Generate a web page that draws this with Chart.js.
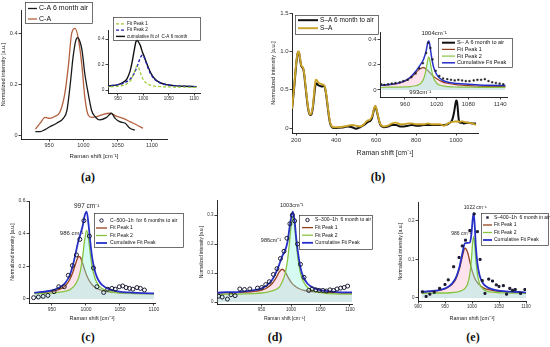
<!DOCTYPE html>
<html>
<head>
<meta charset="utf-8">
<script src="https://cdn.jsdelivr.net/npm/chart.js@4.4.1/dist/chart.umd.min.js"></script>
<style>
body { margin: 0; background: #fff; }
#fig { position: relative; width: 550px; height: 347px; overflow: hidden; background: #fff; }
canvas { position: absolute; }
.tag { position: absolute; font: bold 12px "Liberation Serif", serif; color: #111; transform: translate(-50%, -50%); }
</style>
</head>
<body>
<div id="fig">
  <canvas id="chA" width="185" height="160" style="left:0px;top:0px"></canvas>
  <canvas id="chAi" width="115" height="95" style="left:92px;top:10px"></canvas>
  <canvas id="chB" width="280" height="157" style="left:270px;top:0px"></canvas>
  <canvas id="chBi" width="155" height="85" style="left:362px;top:25px"></canvas>
  <canvas id="chC" width="175" height="132" style="left:10px;top:190px"></canvas>
  <canvas id="chD" width="175" height="132" style="left:199px;top:190px"></canvas>
  <canvas id="chE" width="152" height="132" style="left:398px;top:190px"></canvas>
  <div class="tag" style="left:88px;top:177px">(a)</div>
  <div class="tag" style="left:378px;top:177px">(b)</div>
  <div class="tag" style="left:88px;top:337px">(c)</div>
  <div class="tag" style="left:275px;top:337px">(d)</div>
  <div class="tag" style="left:473px;top:337px">(e)</div>
</div>
<script>
// ---- (a) C-A spectra ----
const aAgedShift = [930, 937, 944, 951, 961, 971, 976, 981, 985, 989, 992, 995, 998, 1002, 1007, 1012, 1017, 1024, 1034, 1041, 1046, 1053, 1061, 1068, 1075];
const aAged = [0.017, 0.017, 0.025, 0.036, 0.05, 0.07, 0.1, 0.207, 0.31, 0.375, 0.386, 0.37, 0.337, 0.246, 0.167, 0.1, 0.076, 0.063, 0.073, 0.089, 0.07, 0.056, 0.05, 0.03, 0.023];
const aFreshShift = [930, 937, 944, 951, 958, 966, 973, 978, 983, 988, 993, 998, 1002, 1007, 1012, 1020, 1029, 1039, 1048, 1058, 1068, 1078, 1087];
const aFresh = [0.027, 0.05, 0.073, 0.069, 0.076, 0.095, 0.167, 0.272, 0.403, 0.422, 0.376, 0.272, 0.154, 0.082, 0.073, 0.076, 0.085, 0.089, 0.078, 0.069, 0.056, 0.043, 0.03];

// (a) inset fits
const aFitShift = [926, 940, 950, 960, 968, 974, 978, 982, 986, 988, 990, 994, 998, 1002, 1006, 1010, 1015, 1022, 1030, 1040, 1050, 1065, 1080, 1105];
const aFit1 = [0.024, 0.026, 0.029, 0.036, 0.049, 0.07, 0.096, 0.138, 0.182, 0.19, 0.182, 0.138, 0.096, 0.07, 0.054, 0.044, 0.037, 0.031, 0.028, 0.025, 0.024, 0.023, 0.022, 0.021];
const aFit2 = [0.031, 0.036, 0.042, 0.052, 0.067, 0.085, 0.104, 0.13, 0.166, 0.187, 0.21, 0.253, 0.272, 0.253, 0.21, 0.166, 0.123, 0.085, 0.062, 0.047, 0.039, 0.032, 0.029, 0.026];
const aFitSum = [0.03, 0.035, 0.042, 0.06, 0.09, 0.15, 0.22, 0.31, 0.385, 0.388, 0.38, 0.35, 0.3, 0.26, 0.215, 0.175, 0.13, 0.09, 0.064, 0.047, 0.039, 0.032, 0.029, 0.026];

// ---- (b) S-A spectra ----
const bShift = [180, 190, 200, 205, 210, 215, 220, 225, 230, 235, 240, 245, 250, 255, 260, 265, 270, 275, 280, 285, 290, 295, 300, 305, 310,
  320, 330, 340, 345, 350, 355, 360, 365, 370, 375, 380, 390, 400,
  420, 440, 460, 480, 500, 520, 540, 550, 560, 570, 580, 590, 596, 600, 610, 620, 630, 640,
  660, 680, 700, 720, 740, 760, 780, 800, 820, 840, 860, 880, 900, 920, 940, 960,
  970, 980, 990, 995, 1000, 1004, 1008, 1012, 1016, 1020, 1030, 1040, 1060, 1080, 1100];
const bAged = [0.24, 0.5, 0.8, 0.92, 0.99, 0.98, 0.9, 0.82, 0.79, 0.78, 0.72, 0.6, 0.48, 0.36, 0.26, 0.2, 0.17, 0.17, 0.2, 0.28, 0.4, 0.52, 0.58, 0.58, 0.56,
  0.55, 0.54, 0.55, 0.52, 0.45, 0.35, 0.24, 0.14, 0.07, 0.03, 0.01, 0.0, 0.0,
  0.005, 0.01, 0.02, 0.01, -0.01, 0.01, 0.04, 0.06, 0.08, 0.09, 0.13, 0.24, 0.28, 0.26, 0.15, 0.05, 0.02, 0.01,
  0.02, 0.04, 0.04, 0.02, 0.02, 0.03, 0.04, 0.03, 0.03, 0.04, 0.04, 0.04, 0.04, 0.04, 0.04, 0.05,
  0.07, 0.1, 0.2, 0.28, 0.35, 0.36, 0.28, 0.15, 0.08, 0.07, 0.07, 0.06, 0.07, 0.06, 0.06];
const bFresh = [0.25, 0.52, 0.82, 0.93, 1.0, 0.99, 0.92, 0.83, 0.8, 0.79, 0.73, 0.62, 0.5, 0.38, 0.28, 0.21, 0.18, 0.18, 0.22, 0.3, 0.44, 0.58, 0.63, 0.62, 0.6,
  0.58, 0.57, 0.56, 0.53, 0.46, 0.37, 0.26, 0.16, 0.08, 0.04, 0.02, 0.01, 0.01,
  0.01, 0.02, 0.03, 0.04, 0.03, 0.02, 0.05, 0.08, 0.1, 0.11, 0.15, 0.25, 0.29, 0.27, 0.16, 0.06, 0.03, 0.02,
  0.03, 0.06, 0.07, 0.05, 0.05, 0.06, 0.06, 0.05, 0.05, 0.05, 0.06, 0.05, 0.05, 0.05, 0.03, 0.06,
  0.07, 0.08, 0.08, 0.09, 0.08, 0.09, 0.08, 0.09, 0.08, 0.08, 0.09, 0.08, 0.07, 0.06, 0.04];

// (b) inset
const bDotShift = [915, 921, 928, 935, 942, 950, 957, 965, 972, 980, 987, 994, 1000, 1004, 1008, 1012, 1018, 1025, 1032, 1040, 1047, 1054, 1061, 1068, 1075, 1082, 1090, 1097, 1104, 1111, 1118, 1125, 1132, 1139, 1146];
const bDot = [0.045, 0.04, 0.045, 0.05, 0.055, 0.06, 0.07, 0.08, 0.1, 0.13, 0.17, 0.21, 0.29, 0.37, 0.33, 0.24, 0.15, 0.11, 0.09, 0.085, 0.08, 0.075, 0.08, 0.075, 0.07, 0.07, 0.075, 0.08, 0.08, 0.085, 0.07, 0.06, 0.055, 0.05, 0.045];
const bFitShift = [915, 930, 945, 960, 970, 980, 985, 990, 995, 1000, 1003, 1005, 1007, 1010, 1014, 1020, 1030, 1040, 1060, 1080, 1100, 1120, 1150];
const bFit1 = [0.036, 0.041, 0.05, 0.069, 0.093, 0.132, 0.154, 0.17, 0.175, 0.165, 0.154, 0.145, 0.136, 0.123, 0.107, 0.088, 0.066, 0.053, 0.04, 0.034, 0.031, 0.029, 0.028];
const bFit2 = [0.021, 0.022, 0.022, 0.024, 0.027, 0.033, 0.04, 0.053, 0.084, 0.162, 0.236, 0.26, 0.236, 0.162, 0.094, 0.053, 0.033, 0.027, 0.023, 0.022, 0.021, 0.021, 0.021];
const bFitSum = [0.037, 0.043, 0.052, 0.073, 0.1, 0.145, 0.174, 0.203, 0.239, 0.307, 0.37, 0.385, 0.352, 0.265, 0.181, 0.12, 0.079, 0.062, 0.05, 0.045, 0.04, 0.037, 0.035];

// ---- (c) C-500-1h ----
const cShift = [923, 930, 937, 944, 953, 960, 968, 974, 980, 986, 991, 997, 1005, 1011, 1016, 1026, 1032, 1038, 1043, 1049, 1054, 1059, 1064, 1069, 1075, 1080, 1086];
const cData = [0.008, 0.012, 0.016, 0.022, 0.045, 0.075, 0.075, 0.145, 0.205, 0.27, 0.365, 0.48, 0.385, 0.19, 0.075, 0.04, 0.06, 0.065, 0.06, 0.075, 0.08, 0.07, 0.065, 0.06, 0.07, 0.065, 0.055];
const cFitShift = [924, 939, 954, 964, 970, 976, 980, 984, 988, 990, 992, 995, 998, 1001, 1004, 1007, 1010, 1014, 1019, 1024, 1034, 1049, 1064, 1084, 1100];
const cFit1 = [0.036, 0.04, 0.05, 0.065, 0.083, 0.118, 0.156, 0.207, 0.253, 0.26, 0.253, 0.22, 0.18, 0.145, 0.118, 0.098, 0.083, 0.07, 0.059, 0.052, 0.0435, 0.0375, 0.035, 0.033, 0.032];
const cFit2 = [0.033, 0.035, 0.038, 0.043, 0.048, 0.056, 0.069, 0.087, 0.118, 0.142, 0.177, 0.255, 0.359, 0.42, 0.359, 0.255, 0.177, 0.118, 0.081, 0.063, 0.047, 0.038, 0.035, 0.033, 0.032];
const cFitSum = [0.039, 0.045, 0.058, 0.078, 0.101, 0.144, 0.195, 0.264, 0.341, 0.372, 0.4, 0.445, 0.509, 0.535, 0.447, 0.323, 0.23, 0.158, 0.11, 0.085, 0.06, 0.0455, 0.04, 0.036, 0.034];

// ---- (d) S-300-1h ----
const dShift = [877, 883, 892, 898, 905, 913, 921, 930, 943, 950, 957, 963, 970, 976, 982, 988, 993, 998, 1002, 1006, 1011, 1016, 1022, 1030, 1036, 1042, 1048, 1054, 1060, 1066, 1072, 1078, 1084, 1090, 1096];
const dData = [0.02, 0.017, 0.01, 0.025, 0.022, 0.045, 0.043, 0.045, 0.048, 0.05, 0.06, 0.07, 0.095, 0.115, 0.15, 0.175, 0.22, 0.27, 0.3, 0.28, 0.2, 0.13, 0.085, 0.04, 0.045, 0.042, 0.04, 0.04, 0.038, 0.042, 0.04, 0.045, 0.048, 0.05, 0.055];
const dFitShift = [875, 890, 905, 920, 935, 950, 960, 968, 975, 980, 985, 990, 994, 997, 1000, 1003, 1006, 1009, 1012, 1016, 1020, 1028, 1040, 1055, 1075, 1090, 1105];
const dFit1 = [0.031, 0.032, 0.032, 0.034, 0.036, 0.041, 0.05, 0.064, 0.085, 0.104, 0.113, 0.104, 0.089, 0.078, 0.069, 0.061, 0.056, 0.051, 0.048, 0.044, 0.041, 0.038, 0.035, 0.033, 0.032, 0.031, 0.031];
const dFit2 = [0.026, 0.027, 0.027, 0.028, 0.029, 0.031, 0.034, 0.038, 0.044, 0.051, 0.07, 0.099, 0.144, 0.198, 0.262, 0.295, 0.262, 0.198, 0.144, 0.099, 0.074, 0.05, 0.037, 0.031, 0.028, 0.027, 0.027];
const dFitSum = [0.032, 0.034, 0.034, 0.037, 0.04, 0.047, 0.059, 0.077, 0.104, 0.13, 0.158, 0.178, 0.208, 0.251, 0.29, 0.312, 0.28, 0.215, 0.167, 0.118, 0.09, 0.063, 0.047, 0.039, 0.035, 0.033, 0.033];

// ---- (e) S-400-1h ----
const eShift = [908, 915, 922, 930, 940, 950, 956, 966, 976, 982, 988, 996, 1004, 1010, 1015, 1019, 1024, 1031, 1038, 1045, 1050, 1058, 1064, 1070, 1075, 1080, 1090, 1098];
const eData = [0.016, 0.004, 0.01, 0.015, 0.025, 0.035, 0.047, 0.081, 0.105, 0.135, 0.15, 0.175, 0.218, 0.172, 0.1, 0.045, 0.012, 0.049, 0.044, 0.034, 0.03, 0.032, 0.01, 0.025, 0.02, 0.022, 0.012, 0.022];
const eFitShift = [907, 922, 937, 952, 962, 970, 977, 982, 987, 992, 996, 999, 1001, 1003, 1005, 1007, 1010, 1014, 1020, 1027, 1037, 1052, 1072, 1087, 1100];
const eFit1 = [0.0155, 0.017, 0.019, 0.025, 0.034, 0.049, 0.077, 0.107, 0.129, 0.118, 0.094, 0.077, 0.067, 0.059, 0.052, 0.046, 0.04, 0.034, 0.027, 0.023, 0.02, 0.017, 0.0154, 0.015, 0.014];
const eFit2 = [0.012, 0.0127, 0.013, 0.013, 0.014, 0.015, 0.017, 0.02, 0.025, 0.037, 0.062, 0.102, 0.14, 0.16, 0.14, 0.102, 0.062, 0.037, 0.024, 0.018, 0.015, 0.0135, 0.013, 0.0125, 0.012];
const eFitSum = [0.0155, 0.0177, 0.02, 0.026, 0.036, 0.052, 0.082, 0.115, 0.142, 0.143, 0.144, 0.167, 0.2, 0.22, 0.19, 0.136, 0.09, 0.059, 0.039, 0.029, 0.023, 0.0185, 0.0164, 0.0155, 0.014];

// tick values and labels
const ramanTicks = [950, 1000, 1050, 1100];
const bXTicks = [200, 400, 600, 800, 1000];
const bInsetXTicks = [960, 1020, 1080, 1140];
const eXTicks = [900, 950, 1000, 1050, 1100];
const y02Ticks = [0, 0.2, 0.4];
const y02Labels = ['0', '0.2', '0.4'];
const bYTicks = [0, 0.5, 1.0, 1.5];
const bYLabels = ['0', '0.5', '1.0', '1.5'];
const cYTicks = [0, 0.2, 0.4, 0.6];
const cYLabels = ['0', '0.2', '0.4', '0.6'];
const dYTicks = [0, 0.1, 0.2, 0.3];
const dYLabels = ['0', '0.1', '0.2', '0.3'];
const eYTicks = [0, 0.1, 0.2];
const eYLabels = ['0', '0.1', '0.2'];

const FONT = '"Liberation Sans", Arial, sans-serif';
const X_TITLE = 'Raman shift [cm\u207B\u00B9]';
const Y_TITLE = 'Normalized intensity [a.u.]';
const BROWN = '#93401f', GREEN = '#86c440', BLUE = '#2630c8', DOT = '#1b1b33';
const PINK = 'rgba(255,175,200,0.35)', CYAN = 'rgba(150,245,225,0.4)';

Chart.defaults.font.family = FONT;

function pts(xs, ys) {
  return xs.map((x, i) => ({ x: x, y: ys[i] }));
}

function scaleOpts(s, isX, thick) {
  return {
    type: 'linear',
    min: s.min,
    max: s.max,
    afterBuildTicks: ax => { ax.ticks = s.ticks.map(v => ({ value: v })); },
    afterFit: ax => {
      if (isX) ax.height = thick; else ax.width = thick;
      ax.paddingLeft = 0; ax.paddingRight = 0; ax.paddingTop = 0; ax.paddingBottom = 0;
    },
    border: { display: true, color: '#111', width: 0.9 },
    grid: { drawOnChartArea: false, drawTicks: true, tickLength: 2.5, tickColor: '#111', tickWidth: 0.8 },
    ticks: {
      autoSkip: false, maxRotation: 0, padding: 1, color: '#333',
      font: { size: s.size },
      callback: (v, i) => s.labels ? s.labels[i] : String(v)
    },
    title: { display: !!s.title, text: s.title, color: '#222', font: { size: s.titleSize }, padding: 0 }
  };
}

// legend drawn inside the figure area, like the Origin boxes
function boxLegend(cfg) {
  return {
    id: 'boxLegend',
    afterDraw(chart) {
      if (!cfg) return;
      const ctx = chart.ctx;
      ctx.save();
      ctx.lineWidth = 0.7;
      ctx.strokeStyle = '#333';
      ctx.strokeRect(cfg.left + 0.5, cfg.top + 0.5, cfg.width, cfg.height);
      ctx.font = cfg.size + 'px ' + FONT;
      ctx.textBaseline = 'middle';
      ctx.textAlign = 'left';
      chart.data.datasets.forEach((ds, i) => {
        const y = cfg.top + cfg.first + i * cfg.step;
        const x0 = cfg.left + cfg.pad, x1 = x0 + cfg.sample;
        ctx.strokeStyle = ds.borderColor;
        ctx.fillStyle = ds.borderColor;
        if (ds.mark === 'circle') {
          ctx.lineWidth = 1;
          ctx.beginPath();
          ctx.arc((x0 + x1) / 2, y, 1.7, 0, Math.PI * 2);
          ctx.stroke();
        } else if (ds.mark === 'rect') {
          ctx.fillRect((x0 + x1) / 2 - 1.2, y - 1.2, 2.4, 2.4);
        } else {
          ctx.lineWidth = ds.legendWidth || ds.borderWidth;
          ctx.setLineDash(ds.borderDash || []);
          ctx.beginPath();
          ctx.moveTo(x0, y);
          ctx.lineTo(x1, y);
          ctx.stroke();
          ctx.setLineDash([]);
        }
        ctx.fillStyle = '#111';
        ctx.fillText(ds.label, x1 + cfg.gap, y);
      });
      ctx.restore();
    }
  };
}

// peak position labels
function peakNotes(items) {
  return {
    id: 'peakNotes',
    afterDraw(chart) {
      const ctx = chart.ctx, sx = chart.scales.x, sy = chart.scales.y;
      ctx.save();
      ctx.fillStyle = '#222';
      ctx.textAlign = 'center';
      ctx.textBaseline = 'middle';
      items.forEach(n => {
        ctx.font = n.size + 'px ' + FONT;
        ctx.fillText(n.text, sx.getPixelForValue(n.x), sy.getPixelForValue(n.y));
      });
      ctx.restore();
    }
  };
}

function makeChart(id, o) {
  return new Chart(document.getElementById(id), {
    type: 'line',
    data: { datasets: o.datasets },
    options: {
      responsive: false,
      animation: false,
      events: [],
      layout: { padding: { left: 0, top: o.top, right: o.right, bottom: 0 } },
      plugins: { legend: { display: false }, tooltip: { enabled: false } },
      scales: { x: scaleOpts(o.x, true, o.xh), y: scaleOpts(o.y, false, o.yw) }
    },
    plugins: [boxLegend(o.legend), peakNotes(o.notes || [])]
  });
}

function curve(label, xs, ys, color, width, extra) {
  return Object.assign({
    label: label, data: pts(xs, ys), borderColor: color, backgroundColor: color,
    borderWidth: width, pointRadius: 0, cubicInterpolationMode: 'monotone', fill: false, mark: 'line'
  }, extra || {});
}

function fitSets(label, mark, xs, ys, fx, f1, f2, fsum) {
  return [
    {
      label: label, data: pts(xs, ys), showLine: false, mark: mark, order: 0,
      pointStyle: mark === 'rect' ? 'rect' : 'circle',
      pointRadius: mark === 'rect' ? 1.4 : 2, pointBorderWidth: 1,
      pointBorderColor: DOT, pointBackgroundColor: mark === 'rect' ? DOT : 'rgba(0,0,0,0)',
      borderColor: DOT
    },
    curve('Fit Peak 1', fx, f1, BROWN, 1.3, { fill: 'origin', backgroundColor: PINK, order: 3 }),
    curve('Fit Peak 2', fx, f2, GREEN, 1.3, { fill: 'origin', backgroundColor: CYAN, order: 2 }),
    curve('Cumulative Fit Peak', fx, fsum, BLUE, 1.8, { order: 1 })
  ];
}

// (a)
makeChart('chA', {
  yw: 21, xh: 21, top: 10, right: 18,
  x: { min: 909, max: 1122, ticks: ramanTicks, size: 5.5, title: X_TITLE, titleSize: 6 },
  y: { min: -0.012, max: 0.494, ticks: y02Ticks, labels: y02Labels, size: 5.5, title: Y_TITLE, titleSize: 5.5 },
  datasets: [
    curve('C-A 6 month air', aAgedShift, aAged, '#1a1a1a', 1.3),
    curve('C-A', aFreshShift, aFresh, '#b4603f', 1.3)
  ],
  legend: { left: 25, top: 2, width: 67, height: 21, first: 6.5, step: 10.5, pad: 3, sample: 9, gap: 2, size: 7 }
});

makeChart('chAi', {
  yw: 16, xh: 12, top: 20, right: 7,
  x: { min: 930.3, max: 1111.8, ticks: ramanTicks, size: 4.5 },
  y: { min: -0.0235, max: 0.4706, ticks: y02Ticks, labels: y02Labels, size: 4.8 },
  datasets: [
    curve('Fit Peak 1', aFitShift, aFit1, '#9acd32', 1.2, { borderDash: [3, 2] }),
    curve('Fit Peak 2', aFitShift, aFit2, '#2020b0', 1.4, { borderDash: [3, 2] }),
    curve('cumulative fit of  C-A 6 month', aFitShift, aFitSum, '#111', 1.4)
  ],
  legend: { left: 21, top: 7, width: 87, height: 23, first: 6.8, step: 6.3, pad: 3, sample: 9, gap: 2, size: 4.6 }
});

// (b)
makeChart('chB', {
  yw: 22, xh: 24, top: 13, right: 72,
  x: { min: 180, max: 1110, ticks: bXTicks, size: 6, title: X_TITLE, titleSize: 7 },
  y: { min: -0.065, max: 1.5, ticks: bYTicks, labels: bYLabels, size: 6, title: Y_TITLE, titleSize: 5.5 },
  datasets: [
    curve('S\u2013A 6 month to air', bShift, bAged, '#111', 2, { order: 1 }),
    curve('S\u2013A', bShift, bFresh, '#c9a227', 1.9, { order: 0 })
  ],
  legend: { left: 25, top: 15, width: 83, height: 19, first: 5.2, step: 8, pad: 3, sample: 20, gap: 2, size: 6.5 }
});

makeChart('chBi', {
  yw: 18, xh: 13, top: 7, right: 10,
  x: { min: 912.7, max: 1153, ticks: bInsetXTicks, size: 6 },
  y: { min: -0.055, max: 0.455, ticks: y02Ticks, labels: y02Labels, size: 6 },
  datasets: [
    {
      label: 'S\u2013 A 6 month to air', data: pts(bDotShift, bDot), showLine: false, mark: 'line', order: 0,
      pointStyle: 'rect', pointRadius: 1.1, pointBorderWidth: 0.5, pointBackgroundColor: '#222', pointBorderColor: '#222',
      borderColor: '#111', borderWidth: 2
    },
    curve('Fit Peak 1', bFitShift, bFit1, BROWN, 1.2, { fill: 'origin', backgroundColor: PINK, order: 3 }),
    curve('Fit Peak 2', bFitShift, bFit2, GREEN, 1.2, { fill: 'origin', backgroundColor: CYAN, order: 2 }),
    curve('Cumulative Fit Peak', bFitShift, bFitSum, BLUE, 1.5, { order: 1 })
  ],
  legend: { left: 76, top: 13, width: 74, height: 29, first: 4.7, step: 6.7, pad: 4, sample: 13, gap: 2, size: 5.5 },
  notes: [
    { text: '1004cm\u207B\u00B9', x: 1015, y: 0.445, size: 6 },
    { text: '993cm\u207B\u00B9', x: 989, y: -0.018, size: 6 }
  ]
});

// (c)
makeChart('chC', {
  yw: 19, xh: 19, top: 11, right: 30,
  x: { min: 916.2, max: 1101.5, ticks: ramanTicks, size: 5, title: X_TITLE, titleSize: 5.5 },
  y: { min: -0.0245, max: 0.6, ticks: cYTicks, labels: cYLabels, size: 5, title: Y_TITLE, titleSize: 5 },
  datasets: fitSets('C\u2013500\u20131h  for 6 months to air', 'circle', cShift, cData, cFitShift, cFit1, cFit2, cFitSum),
  legend: { left: 84, top: 23, width: 89, height: 34, first: 7.5, step: 7.5, pad: 2, sample: 11, gap: 3, size: 5.1 },
  notes: [
    { text: '997 cm\u207B\u00B9', x: 1001, y: 0.57, size: 6.5 },
    { text: '986 cm\u207B\u00B9', x: 979, y: 0.40, size: 6 }
  ]
});

// (d)
makeChart('chD', {
  yw: 18, xh: 18, top: 10, right: 22,
  x: { min: 874.3, max: 1103.4, ticks: ramanTicks, size: 4.5, title: X_TITLE, titleSize: 5 },
  y: { min: -0.0069, max: 0.352, ticks: dYTicks, labels: dYLabels, size: 4.5, title: Y_TITLE, titleSize: 4.5 },
  datasets: fitSets('S\u2013300\u20131h  6 month to air', 'circle', dShift, dData, dFitShift, dFit1, dFit2, dFitSum),
  legend: { left: 100, top: 25, width: 73, height: 34, first: 5, step: 7.6, pad: 3, sample: 11, gap: 2, size: 5 },
  notes: [
    { text: '1003cm\u207B\u00B9', x: 1001, y: 0.333, size: 5.5 },
    { text: '986cm\u207B\u00B9', x: 966, y: 0.214, size: 5.5 }
  ]
});

// (e)
makeChart('chE', {
  yw: 20, xh: 21, top: 12, right: 24,
  x: { min: 900, max: 1100, ticks: eXTicks, size: 4.5, title: X_TITLE, titleSize: 5.5 },
  y: { min: -0.0078, max: 0.249, ticks: eYTicks, labels: eYLabels, size: 4.5, title: Y_TITLE, titleSize: 5 },
  datasets: fitSets('S\u2013400\u20131h  6 month in air', 'rect', eShift, eData, eFitShift, eFit1, eFit2, eFitSum),
  legend: { left: 83, top: 23, width: 67, height: 32, first: 4.5, step: 7.5, pad: 2, sample: 9, gap: 2, size: 5 },
  notes: [
    { text: '1022 cm\u207B\u00B9', x: 1006, y: 0.234, size: 5 },
    { text: '986 cm\u207B\u00B9', x: 980, y: 0.168, size: 5 }
  ]
});
</script>
</body>
</html>
